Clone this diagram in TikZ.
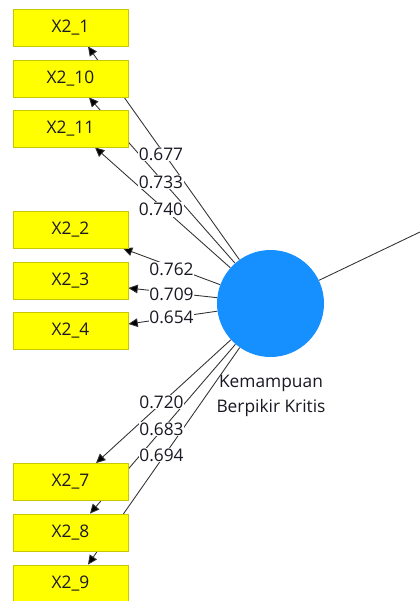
\documentclass[tikz,border=0pt]{standalone}
\usepackage{fontspec}
\setmainfont{Open Sans}
\usetikzlibrary{arrows.meta,calc}
\definecolor{boxfill}{RGB}{255,255,0}
\definecolor{boxline}{RGB}{200,200,0}
\definecolor{latent}{RGB}{22,144,255}
\definecolor{conn}{RGB}{50,50,50}
\definecolor{txt}{RGB}{25,25,35}
\begin{document}
\begin{tikzpicture}[x=0.75pt,y=-0.75pt,
  ind/.style={draw=boxline,fill=boxfill,line width=0.6pt,minimum width=86.25pt,minimum height=27.75pt,inner sep=0pt,text=txt,font=\fontsize{13}{14}\selectfont},
  lv/.style={circle,fill=latent,minimum size=80.25pt,inner sep=0pt},
  arr/.style={draw=conn,line width=0.65pt,-{Triangle[length=7pt,width=6.5pt,fill=black]}},
  lab/.style={fill=white,inner sep=0.6pt,text=txt,font=\fontsize{13}{14}\selectfont},
  lvcap/.style={align=center,text=txt,font=\fontsize{13}{18.5}\selectfont}]
\useasboundingbox (0,0) rectangle (420,601);
\fill[white] (0,0) rectangle (420,601);
% indicator positions
\path
  (70.5,27.5)  coordinate (c1)
  (70.5,78.5)  coordinate (c10)
  (70.5,128.5) coordinate (c11)
  (70.5,229.5) coordinate (c2)
  (70.5,280.5) coordinate (c3)
  (70.5,331)   coordinate (c4)
  (70.5,482)   coordinate (c7)
  (70.5,532.5) coordinate (c8)
  (70.5,583.5) coordinate (c9);
% latent variable
\node[lv] (k) at (270.5,303.5) {};
\node[lvcap] (kc) at (271,396) {Kemampuan\\Berpikir Kritis};
\coordinate (out) at (420,232);
\draw[draw=conn,line width=0.65pt] (k) -- (out);
% invisible copies of the boxes, for anchors
\foreach \n in {1,10,11,2,3,4,7,8,9} {\node[ind,draw=none,fill=none,text opacity=0] (p\n) at (c\n) {};}
% indicator lines (boxes drawn over them)
\draw[arr] (k) -- ($(p1.south)+(17.5,0)$);
\draw[arr] (k) -- ($(p10.south)+(18.5,0)$);
\draw[arr] (k) -- ($(p11.south)+(24.5,0)$);
\draw[arr] (k) -- ($(p2.south)+(52.5,0)$);
\draw[arr] (k) -- ($(p3.east)+(0,7.5)$);
\draw[arr] (k) -- ($(p4.east)+(0,-7)$);
\draw[arr] (k) -- ($(p7.north)+(25.5,0)$);
\draw[arr] (k) -- ($(p8.north)+(19.5,0)$);
\draw[arr] (k) -- ($(p9.north)+(17.5,0)$);
% indicators
\node[ind] (b1)  at (c1)  {X2\_1};
\node[ind] (b10) at (c10) {X2\_10};
\node[ind] (b11) at (c11) {X2\_11};
\node[ind] (b2)  at (c2)  {X2\_2};
\node[ind] (b3)  at (c3)  {X2\_3};
\node[ind] (b4)  at (c4)  {X2\_4};
\node[ind] (b7)  at (c7)  {X2\_7};
\node[ind] (b8)  at (c8)  {X2\_8};
\node[ind] (b9)  at (c9)  {X2\_9};
% loadings
\node[lab] (l1)  at (161,154) {0.677};
\node[lab] (l10) at (161,182) {0.733};
\node[lab] (l11) at (161,209.5) {0.740};
\node[lab] (l2)  at (171.5,269) {0.762};
\node[lab] (l3)  at (171.5,294) {0.709};
\node[lab] (l4)  at (171.5,317.5) {0.654};
\node[lab] (l7)  at (161.5,402) {0.720};
\node[lab] (l8)  at (161.5,429) {0.683};
\node[lab] (l9)  at (161.5,455) {0.694};
\end{tikzpicture}
\end{document}
